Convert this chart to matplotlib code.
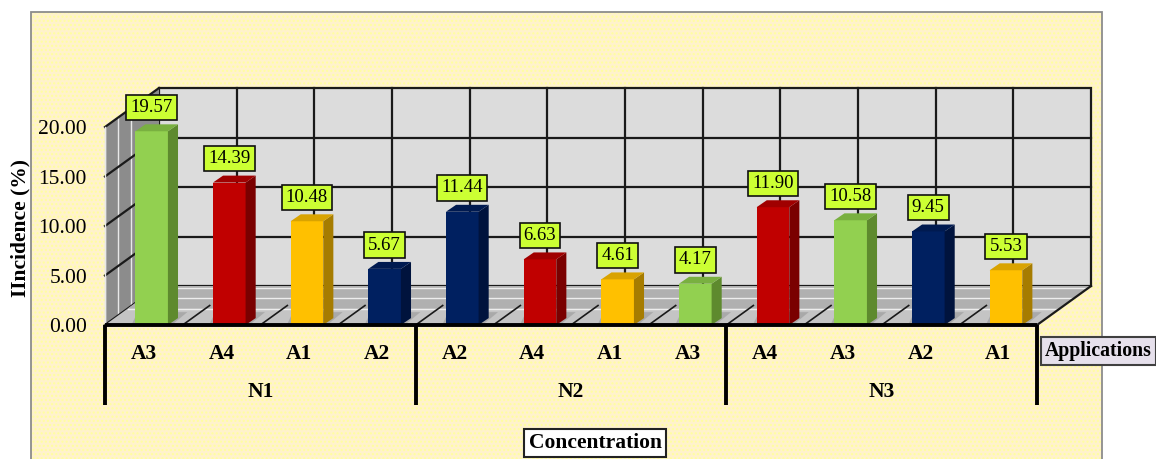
import matplotlib
matplotlib.use('Agg')
import matplotlib.pyplot as plt
from matplotlib.patches import Polygon, Rectangle

# ---- data ----
groups = ['N1', 'N2', 'N3']
applications = ['A3', 'A4', 'A1', 'A2', 'A2', 'A4', 'A1', 'A3', 'A4', 'A3', 'A2', 'A1']
incidence = [19.57, 14.39, 10.48, 5.67, 11.44, 6.63, 4.61, 4.17, 11.90, 10.58, 9.45, 5.53]
y_ticks = [0, 5, 10, 15, 20]
app_colors = {'A1': '#FFC000', 'A2': '#002060', 'A3': '#92D050', 'A4': '#C00000'}
app_side = {'A1': '#A67C00', 'A2': '#00133D', 'A3': '#5E8A2E', 'A4': '#7A0000'}
app_top = {'A1': '#D9A300', 'A2': '#001A50', 'A3': '#79B040', 'A4': '#A00000'}

SERIF = ['Liberation Serif', 'DejaVu Serif']
FS = 15.5

W, H = 1156, 459
fig = plt.figure(figsize=(W / 100, H / 100), dpi=100)
ax = fig.add_axes([0, 0, 1, 1])
ax.axis('off')

PX, PY = 77.67, 9.9      # pixels per category / per value unit
X0, Y0 = 105, 325


def X(px):
    return (px - X0) / PX


def Y(py):
    return (Y0 - py) / PY


ax.set_xlim(X(0), X(W))
ax.set_ylim(Y(H), Y(0))

n = len(incidence)
ymax = y_ticks[-1]
DX, DY = 54 / PX, 39 / PY   # depth offsets

# chart area background
ax.add_patch(Rectangle((X(31), Y(475)), X(1102) - X(31), Y(12) - Y(475),
                       facecolor='#FFF2CC', edgecolor='#FFFF9E', lw=0, hatch='....', zorder=0))
ax.add_patch(Rectangle((X(31), Y(475)), X(1102) - X(31), Y(12) - Y(475),
                       facecolor='none', edgecolor='#8C8C8C', lw=1.3, zorder=0.5))

# back wall
ax.add_patch(Polygon([(DX, DY), (n + DX, DY), (n + DX, ymax + DY), (DX, ymax + DY)],
                     closed=True, facecolor='#DCDCDC', edgecolor='#1A1A1A', lw=1.6, zorder=1))
for t in y_ticks[1:-1]:
    ax.plot([DX, n + DX], [t + DY, t + DY], color='#1A1A1A', lw=1.6, zorder=1.1)
for i in range(1, n):
    ax.plot([i + DX, i + DX], [DY, ymax + DY], color='#1A1A1A', lw=1.6, zorder=1.1)

# side wall
ax.add_patch(Polygon([(0, 0), (DX, DY), (DX, ymax + DY), (0, ymax)],
                     closed=True, facecolor='#8C8C8C', edgecolor='none', zorder=1.2))
for f in [0.0, 0.24, 0.49]:
    xx = f * DX
    ax.plot([xx, xx], [f * DY, ymax + f * DY], color='#E8E8E8', lw=1.0, zorder=1.3)
for t in y_ticks:
    ax.plot([0, DX], [t, t + DY], color='#1A1A1A', lw=1.6, zorder=1.4)

# floor
ax.add_patch(Polygon([(0, 0), (n, 0), (n + DX, DY), (DX, DY)],
                     closed=True, facecolor='#C4C4C4', edgecolor='none', zorder=1.5))
f0 = 0.42
ax.add_patch(Polygon([(f0 * DX, f0 * DY), (n + f0 * DX, f0 * DY), (n + DX, DY), (DX, DY)],
                     closed=True, facecolor='#B0B0B0', edgecolor='none', zorder=1.6))
for f in [f0, 0.68, 0.94]:
    ax.plot([f * DX, n + f * DX], [f * DY, f * DY], color='#EDEDED', lw=1.0, zorder=1.7)
for i in range(1, n):
    ax.plot([i, i + 0.5 * DX], [0, 0.5 * DY], color='#1A1A1A', lw=1.2, zorder=1.8)
ax.plot([n, n + DX], [0, DY], color='#1A1A1A', lw=1.6, zorder=1.8)
ax.plot([0, 0], [0, ymax], color='#E8E8E8', lw=1.0, zorder=1.8)

# bars (pseudo 3-D)
off, bw = 0.39, 0.42
sd, sdy = 0.13, 0.7
xs = [i + off for i in range(n)]
cols = [app_colors[a] for a in applications]
ax.bar(xs, incidence, width=bw, align='edge', color=cols, edgecolor='none', zorder=5)
for x1, v, a in zip(xs, incidence, applications):
    # soft shadow on the floor
    ax.add_patch(Polygon([(x1 - 0.05, 0), (x1 + bw + 0.05, 0), (x1 + bw + sd + 0.12, sdy + 0.6),
                          (x1 + sd - 0.1, sdy + 0.6)],
                         closed=True, facecolor='#8A8A8A', edgecolor='none', alpha=0.45, zorder=4))
    ax.add_patch(Polygon([(x1 + bw, 0), (x1 + bw + sd, sdy), (x1 + bw + sd, v + sdy), (x1 + bw, v)],
                         closed=True, facecolor=app_side[a], edgecolor='none', zorder=5))
    ax.add_patch(Polygon([(x1, v), (x1 + bw, v), (x1 + bw + sd, v + sdy), (x1 + sd, v + sdy)],
                         closed=True, facecolor=app_top[a], edgecolor='none', zorder=5))
    ax.text(x1 + bw / 2, v + sdy + 1.7, f'{v:.2f}', ha='center', va='center',
            fontsize=13.5, family=SERIF, zorder=8,
            bbox=dict(boxstyle='square,pad=0.22', facecolor='#CCFF33', edgecolor='#111111', lw=1.2))

# front floor edge & category separators
ax.plot([0, n], [0, 0], color='black', lw=2.8, zorder=6, solid_capstyle='butt')
per = n // len(groups)
for g in range(len(groups) + 1):
    ax.plot([g * per, g * per], [0, Y(405)], color='black', lw=2.8, zorder=6, solid_capstyle='butt')

# axis tick labels
for t in y_ticks:
    ax.text(X(87), t - 0.3, f'{t:.2f}', ha='right', va='center', fontsize=FS, family=SERIF, zorder=7)
ax.text(X(20), Y(228), 'IIncidence (%)', rotation=90, ha='center', va='center',
        fontsize=FS, fontweight='bold', family=SERIF, zorder=7)

for i, a in enumerate(applications):
    ax.text(i + 0.5, Y(354), a, ha='center', va='center', fontsize=FS, fontweight='bold',
            family=SERIF, zorder=7)
for g, name in enumerate(groups):
    ax.text(g * per + per / 2, Y(392), name, ha='center', va='center', fontsize=FS,
            fontweight='bold', family=SERIF, zorder=7)

ax.text(X(1045), Y(351), 'Applications', ha='left', va='center', fontsize=14.2, fontweight='bold',
        family=SERIF, zorder=7,
        bbox=dict(boxstyle='square,pad=0.22', facecolor='#E6E0EC', edgecolor='#404040', lw=1.5))
ax.text(X(595), Y(443), 'Concentration', ha='center', va='center', fontsize=FS, fontweight='bold',
        family=SERIF, zorder=7,
        bbox=dict(boxstyle='square,pad=0.2', facecolor='white', edgecolor='#222222', lw=1.5))

fig.savefig('out.png', dpi=100)
